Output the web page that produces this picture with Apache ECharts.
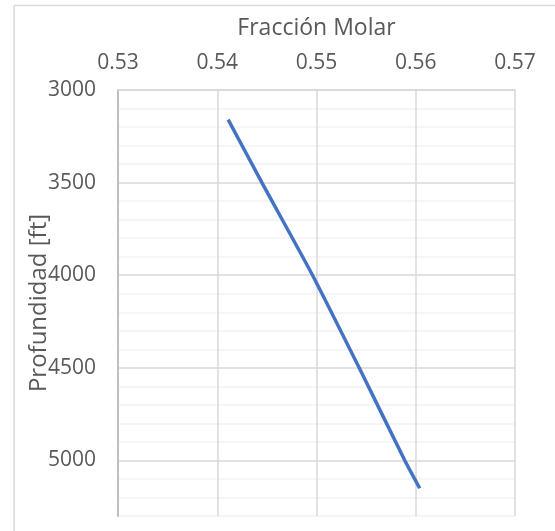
<!DOCTYPE html>
<html>
<head>
<meta charset="utf-8">
<script src="https://cdn.jsdelivr.net/npm/echarts@6/dist/echarts.min.js"></script>
<style>
html,body{margin:0;padding:0;background:#fff;}
#main{width:555px;height:531px;}
</style>
</head>
<body>
<div id="main"></div>
<script>
// datos
var fraccion = [0.5411, 0.5445, 0.5496, 0.5543, 0.5589, 0.5604];
var profundidad = [3160, 3500, 4000, 4500, 5000, 5150];
var xTicks = [0.53, 0.54, 0.55, 0.56, 0.57];
var yTicks = [3000, 3500, 4000, 4500, 5000];

var puntos = [];
for (var i = 0; i < fraccion.length; i++) {
	puntos.push([fraccion[i], profundidad[i]]);
}

var fuente = 'Open Sans';
var gris = '#595959';

var chart = echarts.init(document.getElementById('main'));
var option = {
	animation: false,
	backgroundColor: '#fff',
	grid: {left: 118, top: 90, right: 40, bottom: 15},
	graphic: [
		//borde exterior del grafico
		{type: 'line', shape: {x1: 14, y1: 5.5, x2: 555, y2: 5.5}, style: {stroke: '#d9d9d9', lineWidth: 1.5}},
		{type: 'line', shape: {x1: 14, y1: 5.5, x2: 14, y2: 531}, style: {stroke: '#d9d9d9', lineWidth: 1.5}}
	],
	xAxis: {
		type: 'value',
		position: 'top',
		min: xTicks[0],
		max: xTicks[xTicks.length - 1],
		interval: 0.01,
		name: 'Fracción Molar',
		nameLocation: 'middle',
		nameGap: 50,
		nameTextStyle: {fontFamily: fuente, fontSize: 23, color: gris},
		axisLine: {show: true, lineStyle: {color: '#d9d9d9', width: 1.5}},
		axisTick: {show: false},
		axisLabel: {
			margin: 16,
			fontFamily: fuente, fontSize: 21, color: gris,
			formatter: function(v){ return v.toFixed(2); }
		},
		splitLine: {show: true, lineStyle: {color: '#d9d9d9', width: 1.5}}
	},
	yAxis: {
		type: 'value',
		inverse: true,
		min: 3000,
		max: 5300,
		interval: 100,
		name: 'Profundidad [ft]',
		nameLocation: 'middle',
		nameRotate: 90,
		nameGap: 67,
		nameMoveOverlap: false,
		nameTextStyle: {fontFamily: fuente, fontSize: 24, color: gris},
		axisLine: {show: true, lineStyle: {color: '#bfbfbf', width: 2}},
		axisTick: {show: false},
		axisLabel: {
			margin: 22,
			fontFamily: fuente, fontSize: 21, color: gris,
			formatter: function(v){ return yTicks.indexOf(v) >= 0 ? String(v) : ''; }
		},
		splitLine: {
			show: true,
			lineStyle: {color: ['#d9d9d9', '#f2f2f2', '#f2f2f2', '#f2f2f2', '#f2f2f2'], width: 1.5}
		}
	},
	series: [{
		type: 'line',
		data: puntos,
		showSymbol: false,
		smooth: 0.2,
		lineStyle: {color: '#4472c4', width: 3.5}
	}]
};
chart.setOption(option);
</script>
</body>
</html>
